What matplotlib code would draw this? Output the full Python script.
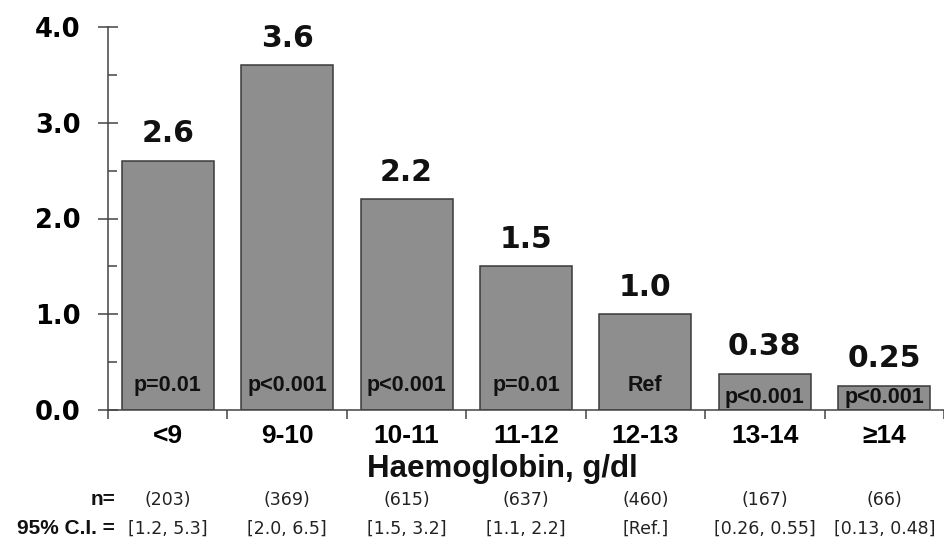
import matplotlib
matplotlib.use('Agg')
import matplotlib.pyplot as plt
import matplotlib.transforms as mtransforms

# Data
categories = ['<9', '9-10', '10-11', '11-12', '12-13', '13-14', '\u226514']
odds_ratio = [2.6, 3.6, 2.2, 1.5, 1.0, 0.38, 0.25]
value_labels = ['2.6', '3.6', '2.2', '1.5', '1.0', '0.38', '0.25']
p_labels = ['p=0.01', 'p<0.001', 'p<0.001', 'p=0.01', 'Ref', 'p<0.001', 'p<0.001']
n_counts = ['(203)', '(369)', '(615)', '(637)', '(460)', '(167)', '(66)']
ci_labels = ['[1.2, 5.3]', '[2.0, 6.5]', '[1.5, 3.2]', '[1.1, 2.2]', '[Ref.]',
             '[0.26, 0.55]', '[0.13, 0.48]']

W, H = 944, 538
fig = plt.figure(figsize=(W / 100, H / 100), dpi=100)
fig.patch.set_facecolor('white')
ax = fig.add_axes([108 / W, (H - 410) / H, 836 / W, 383 / H])

bar_color = '#8e8e8e'
edge_color = '#3a3a3a'
axis_color = '#444444'

x = list(range(len(categories)))
bars = ax.bar(x, odds_ratio, width=0.77, color=bar_color, edgecolor=edge_color,
              linewidth=1.1, zorder=2)

ax.set_xlim(-0.5, len(categories) - 0.5)
ax.set_ylim(0, 4.0)

for s in ['top', 'right']:
    ax.spines[s].set_visible(False)
for s in ['left', 'bottom']:
    ax.spines[s].set_color(axis_color)
    ax.spines[s].set_linewidth(1.1)

# y ticks
ax.set_yticks([0, 1, 2, 3, 4])
ax.set_yticklabels(['0.0', '1.0', '2.0', '3.0', '4.0'], fontsize=18.5,
                   fontweight='bold', family='DejaVu Sans')
ax.set_yticks([0.5, 1.5, 2.5, 3.5], minor=True)
ax.tick_params(axis='y', which='major', direction='inout', length=15, width=1.1,
               color=axis_color, pad=12)
ax.tick_params(axis='y', which='minor', direction='in', length=6.5, width=1.1,
               color=axis_color)

# x ticks: labels at centers, tick marks at category boundaries
ax.set_xticks(x)
ax.set_xticklabels(categories, fontsize=19, fontweight='bold', family='Liberation Sans')
ax.set_xticks([i - 0.5 for i in range(len(categories) + 1)], minor=True)
ax.tick_params(axis='x', which='major', length=0, pad=10)
ax.tick_params(axis='x', which='minor', direction='out', length=6.5, width=1.1,
               color=axis_color)

# value labels above bars and p-values inside
for xi, v, lab, p in zip(x, odds_ratio, value_labels, p_labels):
    ax.annotate(lab, (xi, v), xytext=(0, 13.5), textcoords='offset points',
                ha='center', va='baseline', fontsize=21.5, fontweight='bold',
                family='DejaVu Sans', color='#111111')
    py = 0.26 if v > 0.6 else 0.13
    ax.text(xi, py, p, ha='center', va='center', fontsize=15.5, fontweight='bold',
            family='Liberation Sans', color='#111111', zorder=3)

fig.text(502 / W, (H - 477) / H, 'Haemoglobin, g/dl', ha='center', va='baseline',
         fontsize=22.5, fontweight='bold', family='Liberation Sans', color='#111111')

# n and CI rows
trans = mtransforms.blended_transform_factory(ax.transData, fig.transFigure)
y_n = (H - 505) / H
y_ci = (H - 534) / H
fig.text(115 / W, y_n, 'n=', ha='right', va='baseline', fontsize=15,
         fontweight='bold', family='Liberation Sans', color='#111111')
fig.text(115 / W, y_ci, '95% C.I. =', ha='right', va='baseline', fontsize=15,
         fontweight='bold', family='Liberation Sans', color='#111111')
for xi, n, ci in zip(x, n_counts, ci_labels):
    ax.text(xi, y_n, n, transform=trans, ha='center', va='baseline', fontsize=12.5,
            family='DejaVu Sans', color='#222222')
    ax.text(xi, y_ci, ci, transform=trans, ha='center', va='baseline', fontsize=12.5,
            family='DejaVu Sans', color='#222222')

fig.savefig('out.png', dpi=100, facecolor='white')
